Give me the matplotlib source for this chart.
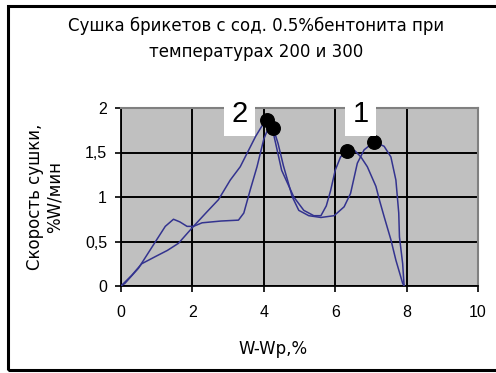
import matplotlib
matplotlib.use("Agg")
import matplotlib.pyplot as plt
from matplotlib.patches import Rectangle

plt.rcParams['font.family'] = ['Liberation Sans', 'DejaVu Sans']

title = "Сушка брикетов с сод. 0.5%бентонита при\nтемпературах 200 и 300"
xlabel = "W-Wp,%"
ylabel = "Скорость сушки,\n%W/мин"
x_ticks = [0, 2, 4, 6, 8, 10]
y_ticks = [0, 0.5, 1, 1.5, 2]
y_tick_labels = ["0", "0,5", "1", "1,5", "2"]

# curve with early bump
curve_a_x = [0, 0.11, 0.49, 1.0, 1.24, 1.47, 1.65, 1.85, 2.03, 2.27, 2.8, 3.29, 3.44, 3.62,
             3.81, 4.0, 4.15, 4.26, 4.4, 4.55, 4.8, 4.98, 5.26, 5.6, 5.97, 6.25, 6.43, 6.62,
             6.81, 7.09, 7.37, 7.56, 7.7, 7.78, 7.8, 7.89, 7.93]
curve_a_y = [0, 0.03, 0.2, 0.52, 0.67, 0.75, 0.72, 0.67, 0.67, 0.71, 0.73, 0.74, 0.82, 1.08,
             1.34, 1.65, 1.8, 1.78, 1.6, 1.35, 1.0, 0.85, 0.79, 0.77, 0.79, 0.89, 1.04, 1.38,
             1.53, 1.62, 1.57, 1.45, 1.19, 0.82, 0.55, 0.25, 0]
# smoother curve
curve_b_x = [0, 0.3, 0.58, 0.96, 1.3, 1.61, 2.03, 2.4, 2.73, 3.06, 3.34, 3.58, 3.77, 3.95,
             4.09, 4.25, 4.5, 4.84, 5.12, 5.4, 5.6, 5.75, 5.87, 6.0, 6.15, 6.34, 6.55, 6.72,
             6.9, 7.14, 7.25, 7.37, 7.56, 7.7, 7.89, 7.93]
curve_b_y = [0, 0.12, 0.25, 0.33, 0.4, 0.48, 0.67, 0.83, 0.97, 1.19, 1.34, 1.53, 1.68, 1.8,
             1.87, 1.75, 1.3, 1.0, 0.85, 0.79, 0.79, 0.9, 1.07, 1.3, 1.45, 1.52, 1.52, 1.45,
             1.34, 1.12, 0.95, 0.78, 0.52, 0.29, 0.03, 0]

peak_x = [4.09, 4.26, 6.34, 7.09]
peak_y = [1.87, 1.78, 1.52, 1.62]

labels = ["2", "1"]
label_x = [3.31, 6.71]
label_y = [1.93, 1.93]

W, H = 496, 373
fig = plt.figure(figsize=(W / 100, H / 100), dpi=100)
fig.patch.set_facecolor('white')

# outer chart frame
fig.add_artist(Rectangle((7.5 / W, 1 - 370 / H), (W + 10) / W, (370 - 5.5) / H,
                         transform=fig.transFigure, fill=False, edgecolor='black',
                         linewidth=2.2, clip_on=False))

ax = fig.add_axes([121 / W, 1 - 286 / H, (478 - 121) / W, (286 - 108) / H])
ax.set_facecolor('#C0C0C0')
ax.set_xlim(0, 10)
ax.set_ylim(0, 2)
ax.set_xticks(x_ticks)
ax.set_yticks(y_ticks)
ax.set_yticklabels(y_tick_labels)
ax.grid(True, color='black', linewidth=1.4)
ax.set_axisbelow(True)
for s in ['top', 'right']:
    ax.spines[s].set_color('#808080')
    ax.spines[s].set_linewidth(1.5)
for s in ['left', 'bottom']:
    ax.spines[s].set_color('black')
    ax.spines[s].set_linewidth(1.3)
ax.tick_params(direction='out', length=4, width=1.2, labelsize=11.5, pad=6)
ax.tick_params(axis='x', pad=10)

ax.plot(curve_a_x, curve_a_y, color='#33338F', linewidth=1.1, zorder=3)
ax.plot(curve_b_x, curve_b_y, color='#33338F', linewidth=1.1, zorder=3)
ax.scatter(peak_x, peak_y, s=95, color='black', zorder=4, clip_on=False)

for t, lx, ly in zip(labels, label_x, label_y):
    ax.text(lx, ly, t, fontsize=21, ha='center', va='center', zorder=6, clip_on=False,
            bbox=dict(facecolor='white', edgecolor='none', boxstyle='square,pad=0.25'))

fig.text(256 / W, 1 - 39 / H, title, ha='center', va='center', fontsize=12,
         linespacing=1.6, family='DejaVu Sans')
ax.set_xlabel(xlabel, fontsize=12, family='DejaVu Sans')
ax.xaxis.set_label_coords((273 - 121) / (478 - 121), -(340 - 286) / (286 - 108))
ax.set_ylabel(ylabel, fontsize=12, linespacing=1.15, family='DejaVu Sans')
ax.yaxis.set_label_coords(-(121 - 64) / (478 - 121), 0.5)

fig.savefig('out.png', dpi=100)
